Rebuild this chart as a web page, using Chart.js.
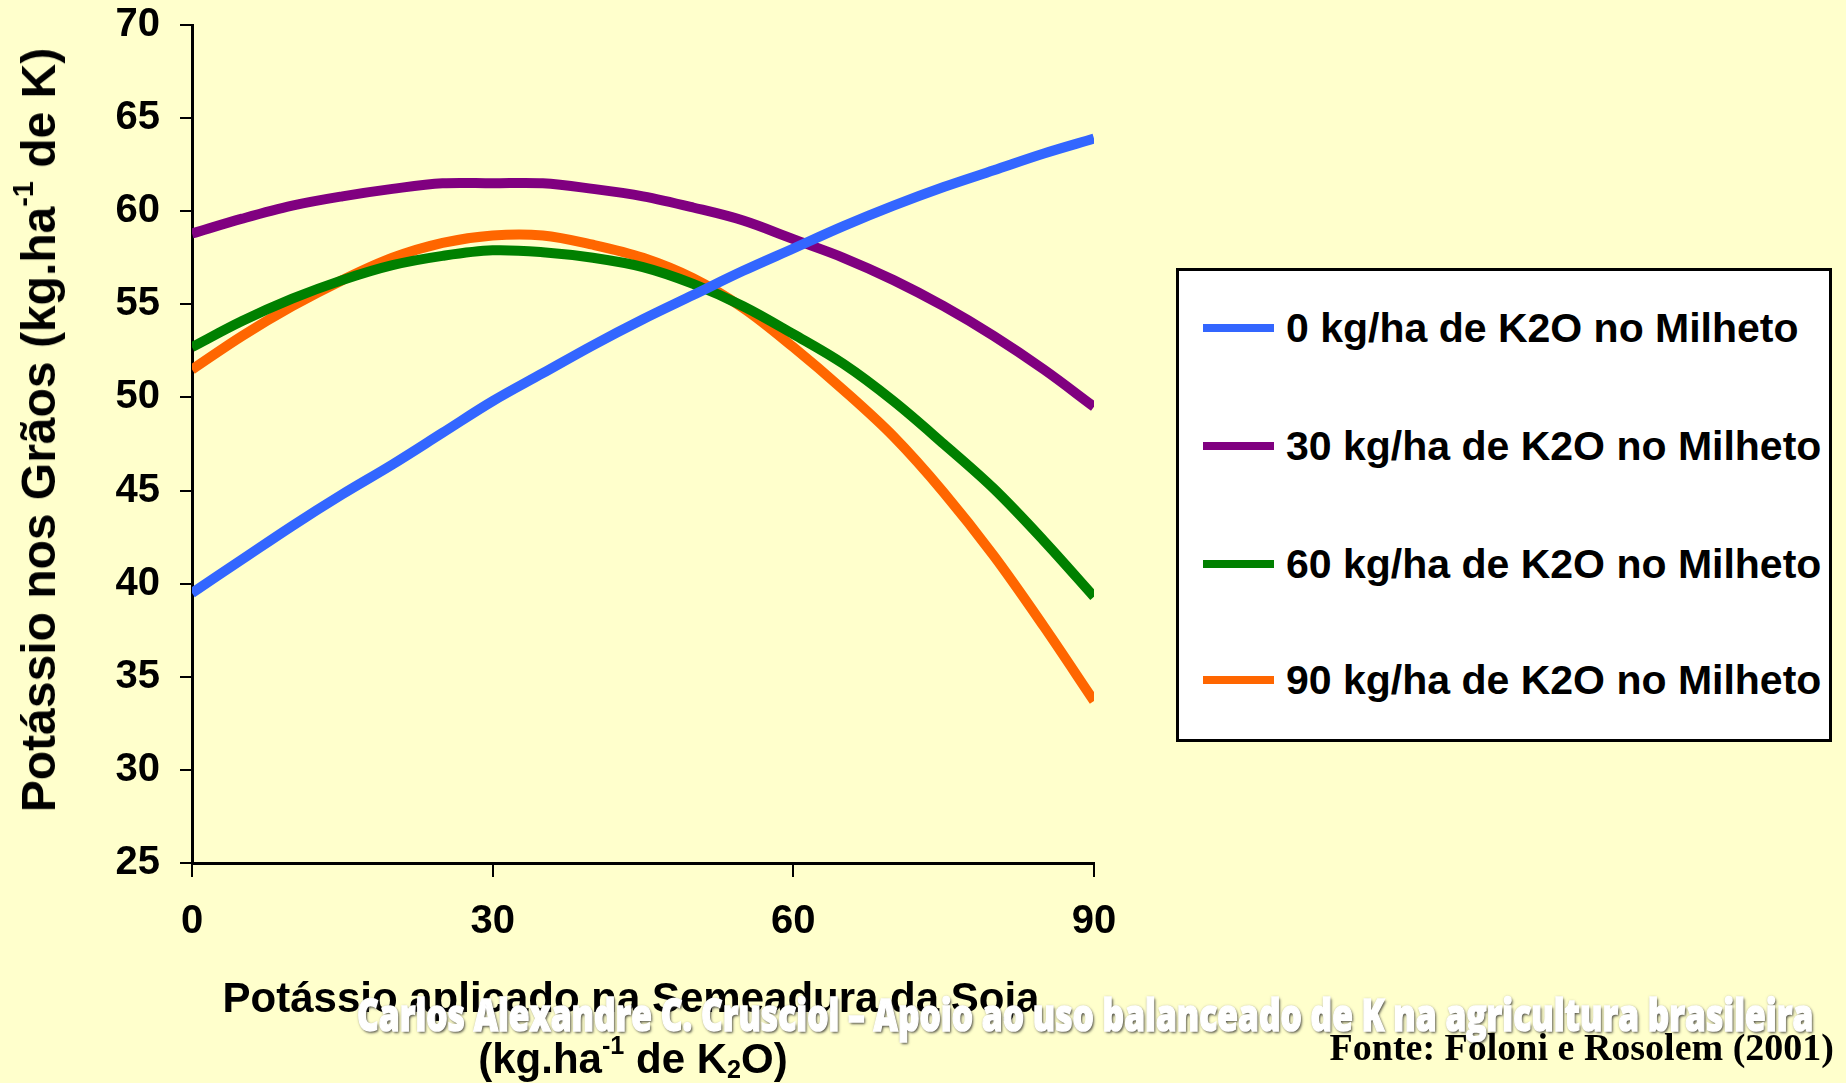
<!DOCTYPE html>
<html lang="pt-BR">
<head>
<meta charset="utf-8">
<title>Potássio nos grãos de soja</title>
<script src="https://cdn.jsdelivr.net/npm/chart.js@4.4.1/dist/chart.umd.min.js"></script>
<style>
  html, body {
    margin: 0;
    padding: 0;
    background: #ffffcc;
    width: 1846px;
    height: 1083px;
    overflow: hidden;
    font-family: 'Liberation Sans', Arial, sans-serif;
  }
  #wrap { position: relative; width: 1846px; height: 1083px; }
  #grafico { position: absolute; left: 0; top: 0; }
  .txt { position: absolute; white-space: nowrap; font-weight: bold; color: #000; line-height: 1; }
  #tituloY {
    left: 39px; top: 430px; font-size: 48px;
    transform: translate(-50%, -50%) rotate(-90deg);
  }
  .tituloX { font-size: 42px; transform: translateX(-50%); }
  sup, sub { font-size: 0.6em; line-height: 0; }
  sup { vertical-align: 0.75em; }
  sub { vertical-align: -0.2em; }
  #legenda {
    position: absolute; left: 1176px; top: 268px; width: 656px; height: 474px;
    box-sizing: border-box; border: 3px solid #000; background: #fff;
  }
  .item { position: absolute; left: 24px; height: 50px; display: flex; align-items: center; white-space: nowrap; }
  .amostra { width: 71px; height: 8px; margin-right: 12px; flex: none; }
  .item span { font-size: 41px; font-weight: bold; line-height: 1; white-space: nowrap; }
  #marca {
    left: 357px; top: 992px; font-family: 'Open Sans', sans-serif; font-size: 44px;
    font-weight: 800; color: #fff; transform-origin: left top;
    -webkit-text-stroke: 1.5px #fff;
    text-shadow: 2px 2px 3px rgba(40, 40, 40, 0.75), 0 0 3px rgba(80, 80, 80, 0.55);
  }
  #fonte {
    right: 12px; top: 1028px; font-family: 'Liberation Serif', 'Times New Roman', serif;
    font-size: 38px;
  }
</style>
</head>
<body>
<div id="wrap">
  <canvas id="grafico" width="1846" height="1083"></canvas>
  <div id="tituloY" class="txt">Potássio nos Grãos (kg.ha<sup>-1</sup> de K)</div>
  <div class="txt tituloX" style="left:631px; top:977px;">Potássio aplicado na Semeadura da Soja</div>
  <div class="txt tituloX" style="left:633px; top:1038px;">(kg.ha<sup>-1</sup> de K<sub>2</sub>O)</div>
  <div id="legenda"></div>
  <div id="marca" class="txt">Carlos Alexandre C. Crusciol – Apoio ao uso balanceado de K na agricultura brasileira</div>
  <div id="fonte" class="txt">Fonte: Foloni e Rosolem (2001)</div>
</div>
<script>
// K2O aplicado na semeadura da soja (kg/ha)
const doseSoja = [0, 5, 10, 15, 20, 25, 30, 35, 40, 45, 50, 55, 60, 65, 70, 75, 80, 85, 90]

// K nos grãos (kg/ha) para cada dose de K2O aplicada no milheto
const milheto0 = [39.5, 41.3, 43.1, 44.8, 46.4, 48.1, 49.8, 51.3, 52.8, 54.2, 55.5, 56.8, 58.0, 59.2, 60.3, 61.3, 62.2, 63.1, 63.9]
const milheto30 = [58.8, 59.6, 60.3, 60.8, 61.2, 61.5, 61.5, 61.5, 61.2, 60.8, 60.2, 59.5, 58.5, 57.5, 56.3, 54.9, 53.3, 51.5, 49.5]
const milheto60 = [52.7, 54.1, 55.3, 56.3, 57.1, 57.6, 57.9, 57.8, 57.5, 57.0, 56.1, 54.9, 53.4, 51.8, 49.8, 47.5, 45.1, 42.3, 39.3]
const milheto90 = [51.5, 53.3, 54.9, 56.3, 57.5, 58.3, 58.7, 58.7, 58.2, 57.5, 56.4, 54.8, 52.7, 50.4, 47.9, 44.9, 41.5, 37.7, 33.7]

const nomesSeries = [
  '0 kg/ha de K2O no Milheto',
  '30 kg/ha de K2O no Milheto',
  '60 kg/ha de K2O no Milheto',
  '90 kg/ha de K2O no Milheto',
]
const ticksX = [0, 30, 60, 90]

const cores = ['#3366ff', '#800080', '#008000', '#ff6600']
const fonteEixo = { family: "'Liberation Sans', Arial, sans-serif", size: 40, weight: 'bold' }

const pontos = (valores) => valores.map((v, i) => ({ x: doseSoja[i], y: v }))

const datasets = [milheto0, milheto30, milheto60, milheto90].map((serie, i) => ({
  label: nomesSeries[i],
  data: pontos(serie),
  borderColor: cores[i],
  backgroundColor: cores[i],
  borderWidth: 10,
  borderCapStyle: 'butt',
  pointRadius: 0,
  tension: 0.35,
  fill: false,
}))

const ctx = document.getElementById('grafico').getContext('2d')

const grafico = new Chart(ctx, {
  type: 'line',
  data: { datasets },
  options: {
    responsive: false,
    animation: false,
    devicePixelRatio: 1,
    layout: { padding: { top: 25, right: 752, bottom: 0, left: 0 } },
    plugins: {
      legend: { display: false },
      tooltip: { enabled: false },
    },
    scales: {
      x: {
        type: 'linear',
        min: 0,
        max: 90,
        afterBuildTicks: (scale) => {
          scale.ticks = ticksX.map((v) => ({ value: v }))
        },
        afterFit: (scale) => {
          scale.height = 220
        },
        ticks: { color: '#000', font: fonteEixo, padding: 21, maxRotation: 0 },
        grid: { drawOnChartArea: false, tickLength: 14, color: '#000', lineWidth: 2 },
        border: { color: '#000', width: 3 },
      },
      y: {
        min: 25,
        max: 70,
        ticks: { stepSize: 5, color: '#000', font: fonteEixo, padding: 20 },
        afterFit: (scale) => {
          // área do gráfico fixa: os rótulos podem passar da margem
          scale.width = 192
          scale.paddingTop = 0
          scale.paddingBottom = 0
        },
        grid: { drawOnChartArea: false, tickLength: 12, color: '#000', lineWidth: 2 },
        border: { color: '#000', width: 3 },
      },
    },
  },
})

// legenda em caixa separada, montada a partir das séries do gráfico
const legenda = document.getElementById('legenda')
const centrosLinhas = [60, 178, 296, 412]
grafico.data.datasets.forEach((ds, i) => {
  const item = document.createElement('div')
  item.className = 'item'
  item.style.top = (centrosLinhas[i] - 25 - 3) + 'px'
  const amostra = document.createElement('div')
  amostra.className = 'amostra'
  amostra.style.background = ds.borderColor
  const texto = document.createElement('span')
  texto.textContent = ds.label
  item.appendChild(amostra)
  item.appendChild(texto)
  legenda.appendChild(item)
})

// faixa de crédito comprimida para caber na largura do slide
const marca = document.getElementById('marca')
marca.style.transform = 'scaleX(' + (1456 / marca.offsetWidth).toFixed(3) + ')'
</script>
</body>
</html>
